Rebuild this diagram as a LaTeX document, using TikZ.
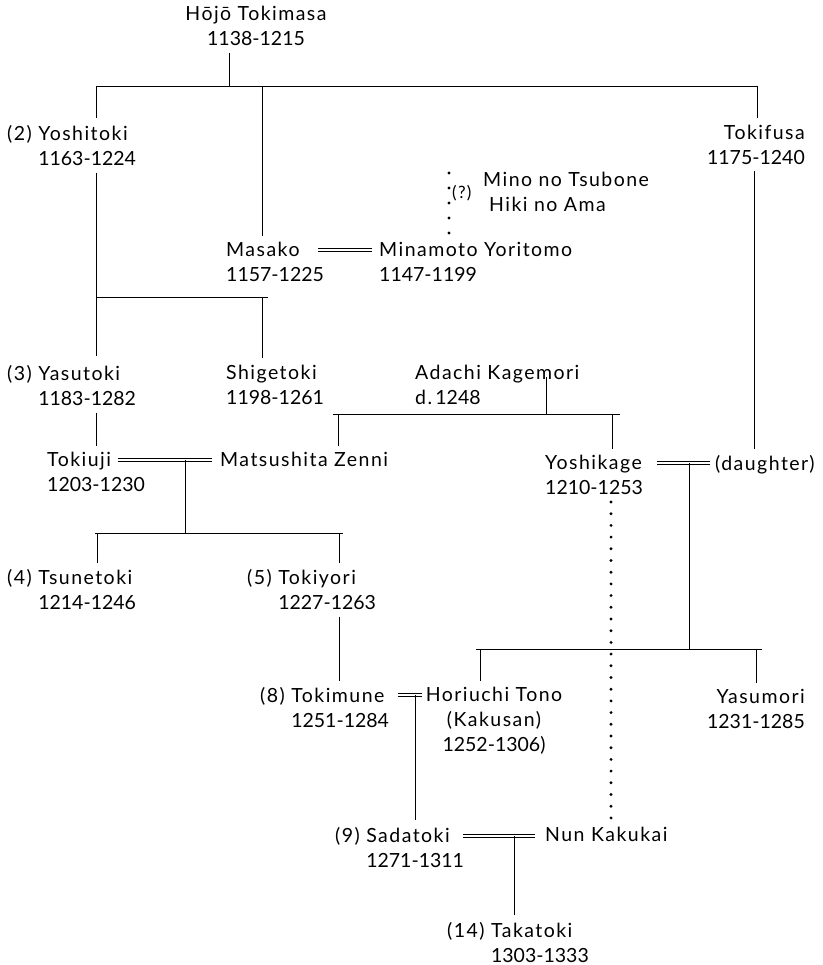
\documentclass[tikz,border=0pt]{standalone}
\usepackage{fontspec}
\setmainfont[LetterSpace=7.5]{Lato}
\newfontfamily\yearfont{Lato}
\usetikzlibrary{positioning}
\newcommand{\yrs}[1]{{\yearfont #1}}

\begin{document}
\begin{tikzpicture}[
  x=1pt, y=-1pt,
  font=\fontsize{19.5}{25}\selectfont,
  person/.style={inner sep=0pt, anchor=north west, align=left},
  line/.style={line width=0.95pt},
  dots/.style={line width=3.2pt, line cap=round, dash pattern=on 0pt off 11.7pt},
  fewdots/.style={line width=3.2pt, line cap=round, dash pattern=on 0pt off 15pt}
]
\useasboundingbox (0,0) rectangle (822,965);

% people
\node[person, anchor=north, align=center] (tm) at (256,6) {Hōjō Tokimasa\\\yrs{1138-1215}};
\node[person] (ysh) at (7,125) {(2) Yoshitoki\\\hphantom{(2) }\yrs{1163-1224}};
\node[person, anchor=north east, align=right] (tfs) at (805,125) {Tokifusa\\\yrs{1175-1240}};
\node[person] (mino) at (483,172) {Mino no Tsubone\\\hspace*{6pt}Hiki no Ama};
\node[inner sep=0pt, anchor=west, font=\fontsize{17}{19}\selectfont] (qm) at (452,193) {(?)};
\node[person] (msk) at (226,242) {Masako\\\yrs{1157-1225}};
\node[person] (yrt) at (379,242) {Minamoto Yoritomo\\\yrs{1147-1199}};
\node[person] (yst) at (7,365) {(3) Yasutoki\\\hphantom{(3) }\yrs{1183-1282}};
\node[person] (sgt) at (226,365) {Shigetoki\\\yrs{1198-1261}};
\node[person] (adc) at (415,365) {Adachi Kagemori\\d.\,\yrs{1248}};
\node[person] (tku) at (47,452) {Tokiuji\\\yrs{1203-1230}};
\node[person] (mtz) at (220,452) {Matsushita Zenni};
\node[person] (ysk) at (545,455) {Yoshikage\\\yrs{1210-1253}};
\node[person] (dtr) at (715,455) {(daughter)};
\node[person] (tnt) at (7,569) {(4) Tsunetoki\\\hphantom{(4) }\yrs{1214-1246}};
\node[person] (tky) at (247,569) {(5) Tokiyori\\\hphantom{(5) }\yrs{1227-1263}};
\node[person] (tkm) at (260,687) {(8) Tokimune\\\hphantom{(8) }\yrs{1251-1284}};
\node[person, anchor=north, align=center] (hrc) at (494,687) {Horiuchi Tono\\(Kakusan)\\\yrs{1252-1306)}};
\node[person, anchor=north east, align=right] (ysm) at (805,689) {Yasumori\\\yrs{1231-1285}};
\node[person] (sdt) at (335,827) {(9) Sadatoki\\\hphantom{(9) }\yrs{1271-1311}};
\node[person] (nun) at (545,827) {Nun Kakukai};
\node[person] (tkt) at (447,922) {(14) Takatoki\\\hphantom{(14) }\yrs{1303-1333}};

% Tokimasa's children
\coordinate (k0) at (229,86);
\coordinate (kL) at (96,86);
\coordinate (kM) at (262,86);
\coordinate (kR) at (757,86);
\draw[line] (kL) -- (kR);
\draw[line, shorten >=7pt] (k0) -- (k0 |- tm.south);
\draw[line, shorten >=7pt] (kL) -- (kL |- ysh.north);
\draw[line, shorten >=6pt] (kM) -- (kM |- msk.north);
\draw[line, shorten >=7pt] (kR) -- (kR |- tfs.north);

% Yoshitoki's line
\coordinate (s0) at (96,297);
\coordinate (s1) at (268,297);
\coordinate (s2) at (262,297);
\draw[line, shorten <=7pt, shorten >=9pt] (s0 |- ysh.south) -- (s0 |- yst.north);
\draw[line] (s0) -- (s1);
\draw[line, shorten >=7pt] (s2) -- (s2 |- sgt.north);

% Masako and Yoritomo
\coordinate (m1) at (318,250);
\coordinate (m2) at (372,250);
\foreach \o in {-1.4,1.4}
  \draw[line] ([yshift=\o pt]m1) -- ([yshift=\o pt]m2);
\draw[fewdots] (449,173) -- (449,233.5);

% Adachi
\coordinate (a0) at (546,414);
\coordinate (aL) at (333,414);
\coordinate (aR) at (620,414);
\coordinate (a1) at (338,414);
\coordinate (a2) at (612,414);
\draw[line] (aL) -- (aR);
\draw[line, shorten <=12pt] (a0 |- adc.north) -- (a0);
\draw[line, shorten >=6pt] (a1) -- (a1 |- mtz.north);
\draw[line, shorten >=6pt] (a2) -- (a2 |- ysk.north);

% Yasutoki to Tokiuji
\draw[line, shorten <=7pt, shorten >=6pt] (s0 |- yst.south) -- (s0 |- tku.north);

% Tokiuji and Matsushita Zenni
\coordinate (u0) at (185,460);
\coordinate (u1) at (185,533);
\coordinate (u2) at (97,533);
\coordinate (u3) at (339,533);
\coordinate (w1) at (118,460);
\coordinate (w2) at (212,460);
\foreach \o in {-1.4,1.4}
  \draw[line] ([yshift=\o pt]w1) -- ([yshift=\o pt]w2);
\draw[line] (u0) -- (u1);
\draw[line] (95,533) -- (343,533);
\draw[line, shorten >=6pt] (u2) -- (u2 |- tnt.north);
\draw[line, shorten >=6pt] (u3) -- (u3 |- tky.north);

% Yoshikage and daughter
\coordinate (y0) at (689,463);
\coordinate (y1) at (689,649);
\coordinate (y2) at (480,649);
\coordinate (y3) at (756,649);
\coordinate (g1) at (657,463);
\coordinate (g2) at (710,463);
\foreach \o in {-1.4,1.4}
  \draw[line] ([yshift=\o pt]g1) -- ([yshift=\o pt]g2);
\draw[line] (y0) -- (y1);
\draw[line] (476,649) -- (762,649);
\draw[line, shorten >=6pt] (y2) -- (y2 |- hrc.north);
\draw[line, shorten >=6pt] (y3) -- (y3 |- ysm.north);
\coordinate (f0) at (754,0);
\draw[line, shorten <=6pt, shorten >=6pt] (f0 |- tfs.south) -- (f0 |- dtr.north);
\draw[dots] (611,502) -- (611,818.5);

% Tokiyori to Tokimune
\draw[line, shorten <=7pt, shorten >=6pt] (u3 |- tky.south) -- (u3 |- tkm.north);

% Tokimune and Horiuchi Tono
\coordinate (h0) at (415,695);
\coordinate (h1) at (398,695);
\coordinate (h2) at (422,695);
\foreach \o in {-1.4,1.4}
  \draw[line] ([yshift=\o pt]h1) -- ([yshift=\o pt]h2);
\draw[line, shorten >=7pt] (h0) -- (h0 |- sdt.north);

% Sadatoki and Nun Kakukai
\coordinate (n0) at (514,836);
\coordinate (n1) at (463,836);
\coordinate (n2) at (535,836);
\foreach \o in {-1.4,1.4}
  \draw[line] ([yshift=\o pt]n1) -- ([yshift=\o pt]n2);
\draw[line, shorten >=7pt] (n0) -- (n0 |- tkt.north);
\end{tikzpicture}
\end{document}
